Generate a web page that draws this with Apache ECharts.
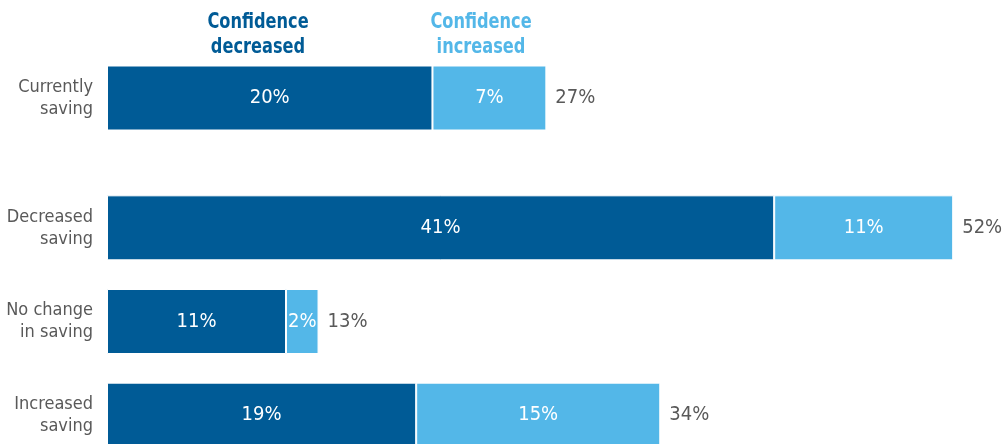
<!DOCTYPE html>
<html>
<head>
<meta charset="utf-8">
<script src="https://cdn.jsdelivr.net/npm/echarts@6/dist/echarts.min.js"></script>
<style>html,body{margin:0;padding:0;background:#fff}#c{width:1003px;height:444px}</style>
</head>
<body>
<div id="c"></div>
<script>
const topCategories = ['Currently\nsaving'];
const bottomCategories = ['Decreased\nsaving', 'No change\nin saving', 'Increased\nsaving'];
const decreasedTop = [20];
const increasedTop = [7];
const decreasedBottom = [41, 11, 19];
const increasedBottom = [11, 2, 15];
const seriesNames = ['Confidence\ndecreased', 'Confidence\nincreased'];

const FONT = "'Liberation Sans Narrow', 'DejaVu Sans Condensed', sans-serif";
const DARK = '#005b96';
const LIGHT = '#53b7e8';
const GRAY = '#595959';

const totalsTop = decreasedTop.map((v, i) => v + increasedTop[i]);
const totalsBottom = decreasedBottom.map((v, i) => v + increasedBottom[i]);

function xAx(gi) {
  return { type: 'value', gridIndex: gi, min: 0, max: 55, show: false };
}
function yAx(gi, cats) {
  return {
    type: 'category', gridIndex: gi, data: cats, inverse: true,
    axisLine: { show: false }, axisTick: { show: false }, splitLine: { show: false },
    axisLabel: { margin: 14, color: GRAY, fontFamily: FONT, fontSize: 18, lineHeight: 22, align: 'right' }
  };
}
function seg(name, data, color, gi, stack) {
  return {
    name: name, type: 'bar', stack: stack, xAxisIndex: gi, yAxisIndex: gi,
    data: data, barWidth: 65,
    itemStyle: { color: color, borderColor: '#fff', borderWidth: 1 },
    label: { show: true, position: 'inside', color: '#fff', fontFamily: FONT, fontSize: 20,
      padding: [3, 0, 0, 0], formatter: p => p.value + '%' },
    silent: true
  };
}
function tot(totals, gi, stack) {
  return {
    type: 'bar', stack: stack, xAxisIndex: gi, yAxisIndex: gi,
    data: totals.map(() => 0), barWidth: 65,
    itemStyle: { color: 'transparent' },
    label: { show: true, position: 'right', distance: 9, color: GRAY, fontFamily: FONT, fontSize: 20,
      padding: [3, 0, 0, 0], formatter: p => totals[p.dataIndex] + '%' },
    silent: true
  };
}

const chart = echarts.init(document.getElementById('c'), null, { renderer: 'canvas' });
chart.setOption({
  animation: false,
  grid: [
    { left: 107, right: 1, top: 51, height: 94, outerBoundsMode: 'none', containLabel: false },
    { left: 107, right: 1, top: 181, height: 281, outerBoundsMode: 'none', containLabel: false }
  ],
  xAxis: [xAx(0), xAx(1)],
  yAxis: [yAx(0, topCategories), yAx(1, bottomCategories)],
  series: [
    seg(seriesNames[0], decreasedTop, DARK, 0, 'a'),
    seg(seriesNames[1], increasedTop, LIGHT, 0, 'a'),
    tot(totalsTop, 0, 'a'),
    seg(seriesNames[0], decreasedBottom, DARK, 1, 'b'),
    seg(seriesNames[1], increasedBottom, LIGHT, 1, 'b'),
    tot(totalsBottom, 1, 'b')
  ],
  graphic: [
    { type: 'text', x: 258, y: 11, scaleY: 1.15, style: { text: seriesNames[0], fill: DARK, font: 'bold 18px ' + FONT, align: 'center', lineHeight: 21 } },
    { type: 'text', x: 481, y: 11, scaleY: 1.15, style: { text: seriesNames[1], fill: LIGHT, font: 'bold 18px ' + FONT, align: 'center', lineHeight: 21 } }
  ]
});
</script>
</body>
</html>
